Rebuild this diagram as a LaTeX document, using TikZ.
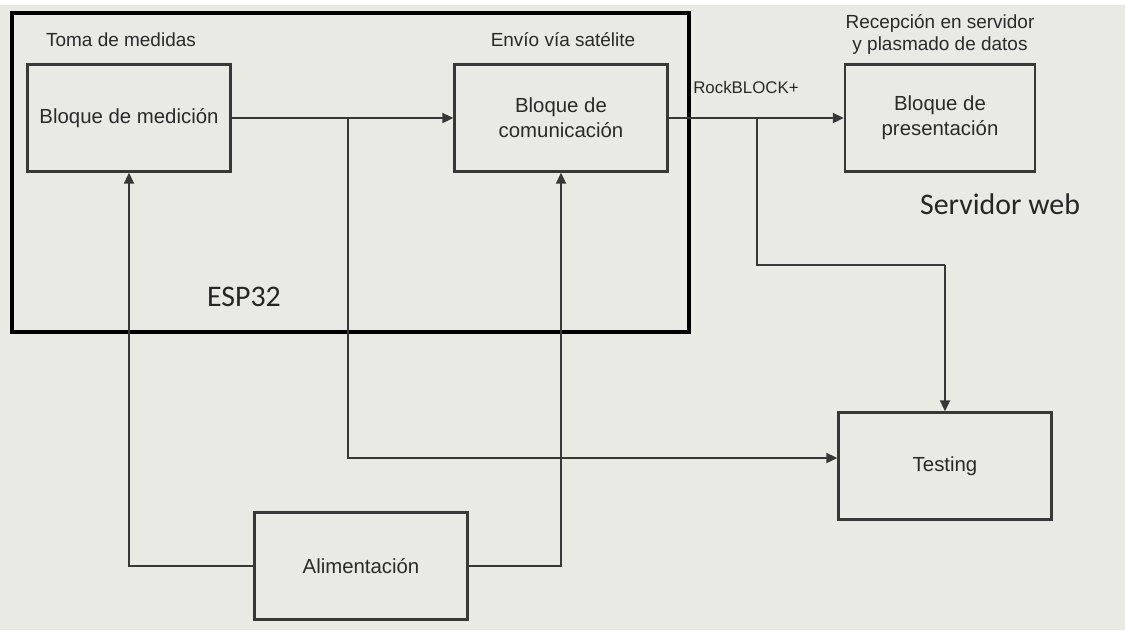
\documentclass[tikz,border=0pt]{standalone}
\usepackage{fontspec}
\setmainfont{Liberation Sans}
\newfontfamily\calibri{Carlito}
\usepackage{xcolor}
\usetikzlibrary{arrows.meta}
\definecolor{fondo}{HTML}{E9EAE4}
\definecolor{trazo}{HTML}{383838}
\definecolor{texto}{HTML}{2A2A2A}

\begin{document}
\begin{tikzpicture}[x=0.02cm, y=-0.02cm,
  bloque/.style={draw=trazo,line width=1.4pt,minimum width=4.26cm,minimum height=2.14cm,
    align=center,text=texto,font=\fontsize{11.6}{14}\selectfont},
  etiqueta/.style={text=texto,align=center,inner sep=1pt,font=\fontsize{10.8}{12.5}\selectfont},
  grande/.style={text=black!85,inner sep=1pt,font=\calibri\fontsize{17}{20}\selectfont},
  flecha/.style={draw=trazo,line width=1.2pt,-{Triangle[length=0.22cm,width=0.2cm]}},
  linea/.style={draw=trazo,line width=1.2pt}]
% fondo
\fill[white] (0,0) rectangle (1125,630);
\fill[fondo] (0,5) rectangle (1125,630);
\useasboundingbox (0,0) rectangle (1125,630);

% bloques
\node[bloque, minimum width=4.06cm] (medicion) at (129,118) {Bloque de medición};
\node[bloque] (comunicacion) at (561,118) {Bloque de\\comunicación};
\node[bloque, minimum width=3.8cm] (presentacion) at (940,118) {Bloque de\\presentación};
\node[bloque] (testing) at (945,466) {Testing};
\node[bloque] (alimentacion) at (361,566) {Alimentación};

% marco ESP32
\draw[black,line width=2.8pt] (12,13) rectangle (689,332);

% textos
\node[etiqueta] (toma) at (121,40) {Toma de medidas};
\node[etiqueta] (envio) at (563,40) {Envío vía satélite};
\node[etiqueta] (recepcion) at (940,34) {Recepción en servidor\\y plasmado de datos};
\node[etiqueta, font=\fontsize{9.6}{12}\selectfont] (rock) at (746,87) {RockBLOCK+};
\node[grande] (servidor) at (1000,204) {Servidor web};
\node[grande] (esp) at (244,297) {ESP32};

% conexiones
\coordinate (rama1) at (348,118);
\coordinate (rama2) at (757,118);
\coordinate (codo) at (945,265);
\draw[flecha] (medicion) -- (comunicacion);
\draw[flecha] (comunicacion) -- (presentacion);
\draw[flecha] (rama1) |- ([yshift=0.16cm]testing.west);
\draw[linea] (rama2) |- (codo);
\draw[flecha] (codo) -- (testing);
\draw[flecha] (alimentacion.west) -| (medicion.south);
\draw[flecha] (alimentacion.east) -| (comunicacion.south);
\end{tikzpicture}
\end{document}
